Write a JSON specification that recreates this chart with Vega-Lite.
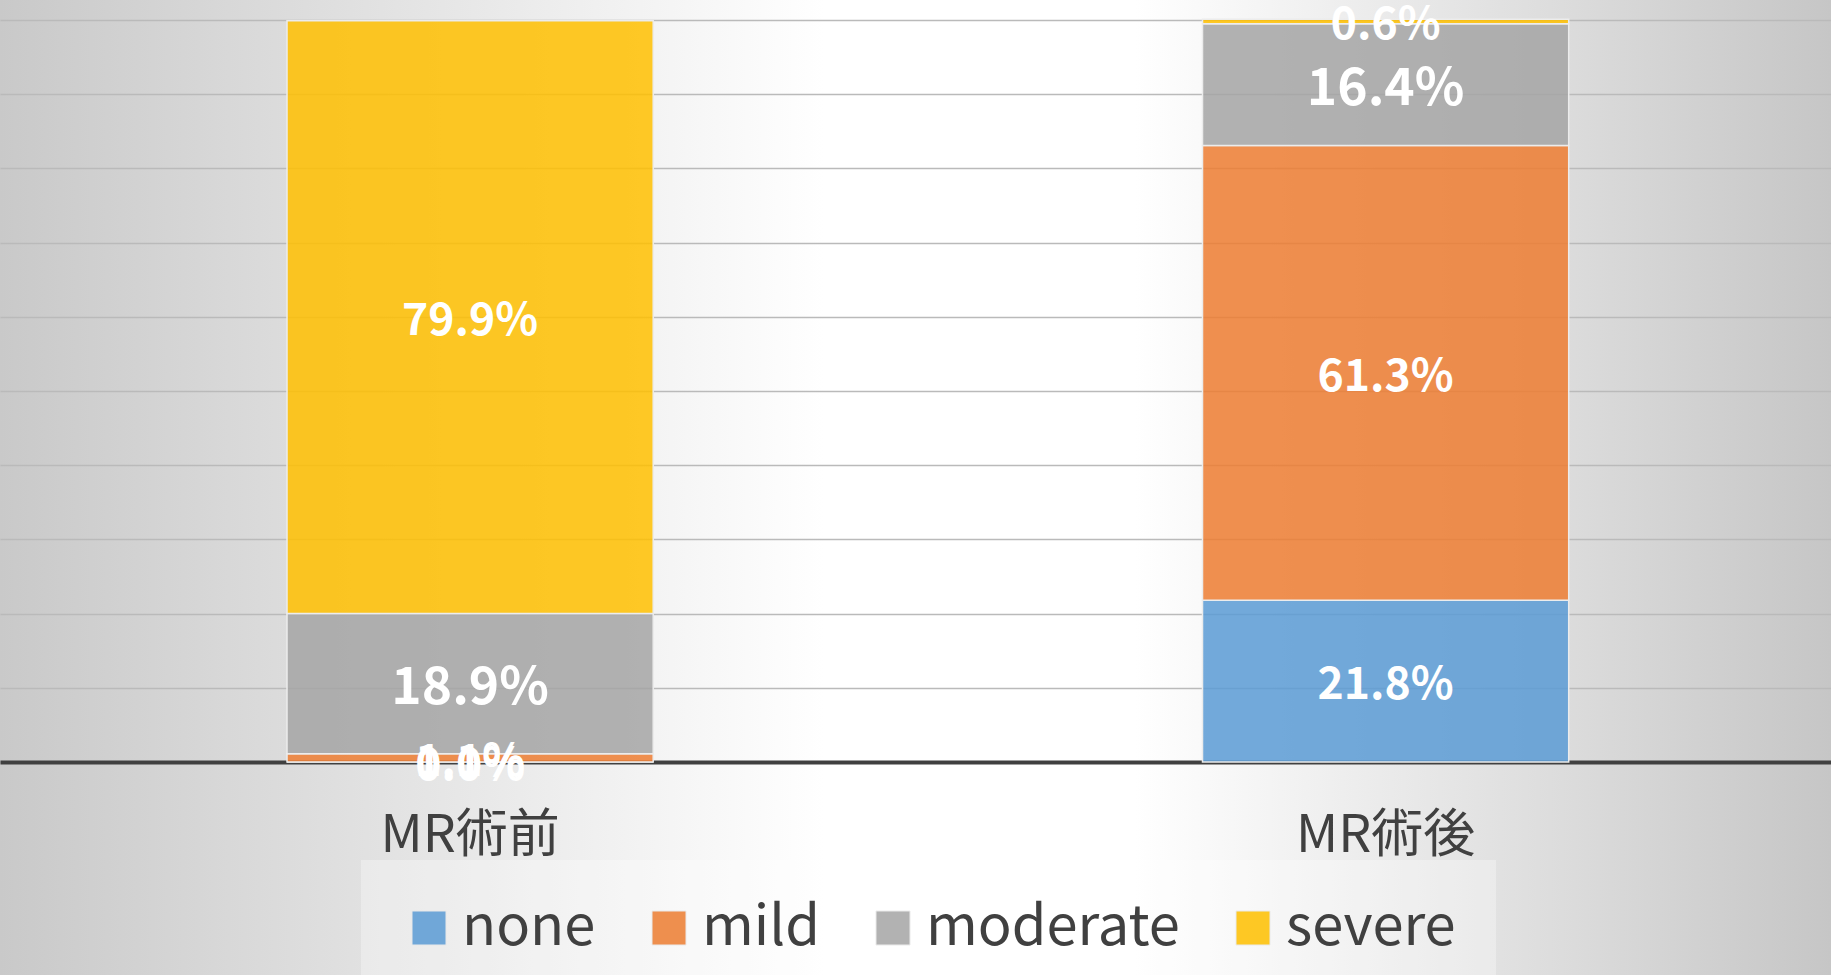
{
  "$schema": "https://vega.github.io/schema/vega-lite/v6.json",
  "width": 1831,
  "height": 975,
  "autosize": {"type": "none"},
  "padding": 0,
  "background": "#d8d8d8",
  "config": {
    "font": "Noto Sans CJK JP",
    "view": {
      "stroke": null,
      "fill": {
        "gradient": "linear",
        "x1": 0, "y1": 0, "x2": 1, "y2": 0,
        "stops": [
          {"offset": 0, "color": "#c9c9c9"},
          {"offset": 0.45, "color": "#ffffff"},
          {"offset": 0.62, "color": "#ffffff"},
          {"offset": 1, "color": "#c6c6c6"}
        ]
      }
    }
  },
  "data": {
    "values": [
      {"stage": "MR術前", "level": "none", "pct": 0.0},
      {"stage": "MR術前", "level": "mild", "pct": 0.011},
      {"stage": "MR術前", "level": "moderate", "pct": 0.189},
      {"stage": "MR術前", "level": "severe", "pct": 0.799},
      {"stage": "MR術後", "level": "none", "pct": 0.218},
      {"stage": "MR術後", "level": "mild", "pct": 0.613},
      {"stage": "MR術後", "level": "moderate", "pct": 0.164},
      {"stage": "MR術後", "level": "severe", "pct": 0.006}
    ]
  },
  "transform": [
    {"calculate": "indexof(['none','mild','moderate','severe'], datum.level)", "as": "k"},
    {"stack": "pct", "groupby": ["stage"], "sort": [{"field": "k", "order": "ascending"}], "as": ["y0", "y1"]},
    {"calculate": "(datum.y0 + datum.y1) / 2", "as": "ym"}
  ],
  "encoding": {
    "x": {
      "field": "stage",
      "type": "nominal",
      "sort": ["MR術前", "MR術後"],
      "scale": {"paddingInner": 0.6, "paddingOuter": 0.3, "align": 0.5225},
      "axis": {
        "title": null,
        "offset": -213,
        "domainColor": "#404040",
        "domainWidth": 4,
        "ticks": false,
        "tickSize": 0,
        "grid": false,
        "labelAngle": 0,
        "labelFontSize": 52,
        "labelColor": "#404040",
        "labelPadding": 73,
        "labelBaseline": "middle",
        "labelLimit": 0
      }
    }
  },
  "layer": [
    {
      "mark": {"type": "bar", "fillOpacity": 0.85, "stroke": "#ececec", "strokeWidth": 1.5},
      "encoding": {
        "y": {
          "field": "y0",
          "type": "quantitative",
          "scale": {"domain": [-0.28706, 1.02695], "nice": false, "zero": false},
          "axis": {
            "title": null,
            "labels": false,
            "ticks": false,
            "domain": false,
            "grid": true,
            "gridColor": "#bababa",
            "gridWidth": 1.5,
            "values": [0, 0.1, 0.2, 0.3, 0.4, 0.5, 0.6, 0.7, 0.8, 0.9, 1.0]
          }
        },
        "y2": {"field": "y1"},
        "color": {
          "field": "level",
          "type": "nominal",
          "scale": {
            "domain": ["none", "mild", "moderate", "severe"],
            "range": ["#5B9BD5", "#ED7D31", "#A5A5A5", "#FFC000"]
          },
          "legend": {
            "orient": "none",
            "legendX": 361,
            "legendY": 860,
            "direction": "horizontal",
            "title": null,
            "symbolType": "square",
            "symbolSize": 1156,
            "symbolOpacity": 0.85,
            "symbolStrokeColor": "#e8e8e8",
            "symbolStrokeWidth": 1,
            "labelFontSize": 56,
            "labelColor": "#404040",
            "labelOffset": 5,
            "labelLimit": 0,
            "columnPadding": 45,
            "padding": 40,
            "fillColor": "rgba(255,255,255,0.3)"
          }
        }
      }
    },
    {
      "mark": {"type": "text", "color": "#ffffff", "fontWeight": "bold", "baseline": "middle", "align": "center", "dy": 5},
      "encoding": {
        "y": {"field": "ym", "type": "quantitative"},
        "text": {"field": "pct", "type": "quantitative", "format": ".1%"},
        "size": {"condition": {"test": "datum.level === 'moderate'", "value": 51.5}, "value": 44.5}
      }
    }
  ]
}
